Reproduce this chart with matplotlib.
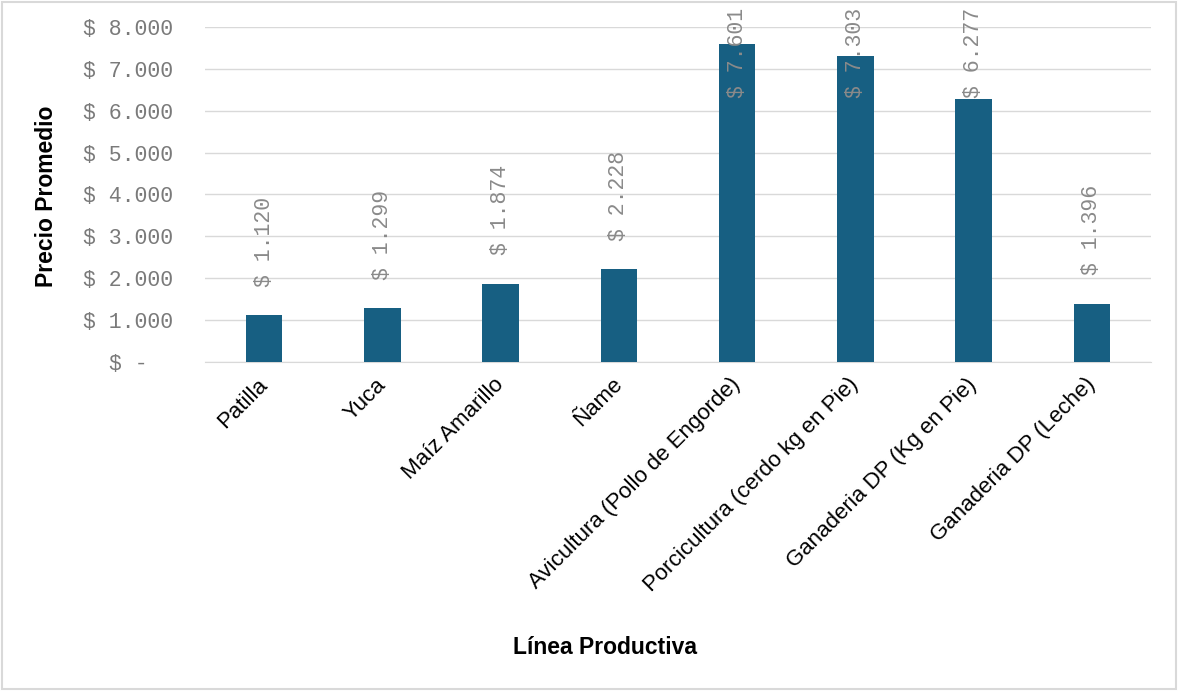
import matplotlib.pyplot as plt
from matplotlib.patches import Rectangle

# precio promedio por linea productiva
lineas = ["Patilla", "Yuca", "Maíz Amarillo", "Ñame",
          "Avicultura (Pollo de Engorde)", "Porcicultura (cerdo kg en Pie)",
          "Ganaderia DP (Kg en Pie)", "Ganaderia DP (Leche)"]
precios = [1120, 1299, 1874, 2228, 7601, 7303, 6277, 1396]
ticks_y = [0, 1000, 2000, 3000, 4000, 5000, 6000, 7000, 8000]


def pesos(v):
    if v == 0:
        return "$ -  "
    return "$ " + f"{v:,}".replace(",", ".")


fig = plt.figure(figsize=(11.78, 6.91), dpi=100)
ax = fig.add_axes([205 / 1178, 1 - 362 / 691, 946 / 1178, 335 / 691])

x = range(len(lineas))
ax.bar(x, precios, width=0.31, color="#175f82", zorder=3)

ax.set_xlim(-0.5, len(lineas) - 0.5)
ax.set_ylim(0, 8000)
ax.set_yticks(ticks_y)
ax.set_yticklabels([pesos(t) for t in ticks_y], family="Liberation Mono",
                   fontsize=15.5, color="#7a7a7a")
ax.tick_params(axis="y", length=0, pad=23)
ax.set_xticks(list(x))
ax.set_xticklabels(lineas, rotation=45, ha="right", va="center",
                   rotation_mode="anchor", family="Liberation Sans",
                   fontsize=16, color="black")
ax.tick_params(axis="x", length=0, pad=14)

ax.grid(axis="y", color="#d9d9d9", linewidth=1, zorder=0)
for s in ["top", "right", "left"]:
    ax.spines[s].set_visible(False)
ax.spines["bottom"].set_color("#d9d9d9")

# etiquetas de valor, limitadas para que no salgan por arriba
for i, v in enumerate(precios):
    ax.text(i, min(v + 670, 6300), pesos(v), rotation=90, ha="center",
            va="bottom", family="Liberation Mono", fontsize=15.5,
            color="#8a8a8a", zorder=4, clip_on=False)

fig.text(47 / 1178, 1 - 196 / 691, "Precio Promedio", rotation=90,
         ha="center", va="center", family="Liberation Sans",
         fontweight="bold", fontsize=16.5)
fig.text(605 / 1178, 1 - 647 / 691, "Línea Productiva", ha="center",
         va="center", family="Liberation Sans", fontweight="bold",
         fontsize=16.5)

fig.patches.append(Rectangle((0.002, 0.003), 0.996, 0.994,
                             transform=fig.transFigure, fill=False,
                             edgecolor="#d9d9d9", linewidth=1.5))

fig.savefig("out.png", dpi=100)
